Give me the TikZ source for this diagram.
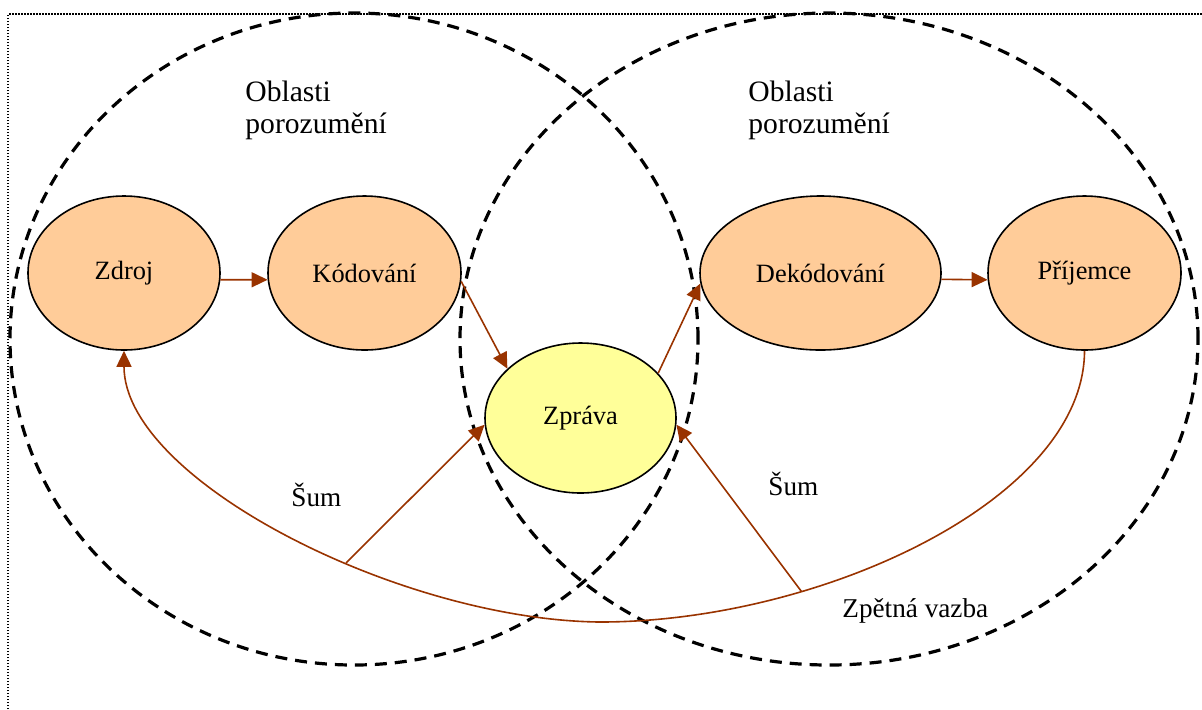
\documentclass[tikz,border=0pt]{standalone}
\usepackage{fontspec}
\setmainfont{Liberation Serif}
\usetikzlibrary{shapes.geometric,arrows.meta}
\definecolor{peach}{HTML}{FFCC99}
\definecolor{lemon}{HTML}{FFFF99}
\definecolor{rust}{HTML}{993300}

\begin{document}
\begin{tikzpicture}[x=0.5pt,y=-0.5pt,
  stage/.style={ellipse,draw=black,line width=0.8pt,fill=peach,inner sep=0pt,
    minimum height=77pt,font=\fontsize{13.2}{16}\selectfont},
  flow/.style={draw=rust,line width=0.8pt,-{Triangle[length=8pt,width=7.5pt]}},
  area/.style={draw=black,line width=1.6pt,dash pattern=on 6pt off 4pt},
  lbl/.style={inner sep=0pt,anchor=base west,font=\fontsize{13.6}{16.5}\selectfont},
  title/.style={inner sep=0pt,anchor=north west,align=left,font=\fontsize{14.8}{16}\selectfont},
  frame/.style={draw=black,line width=0.75pt,dash pattern=on 0.75pt off 0.75pt}]

\useasboundingbox (0,0) rectangle (1202,709);

% open dotted frame
\draw[frame] (8,709) -- (8,14) -- (1202,14);

% areas of understanding
\draw[area] (354,339) ellipse [x radius=172pt, y radius=163pt];
\draw[area] (829,339) ellipse [x radius=184.5pt, y radius=163pt];

% communication stages
\node[stage,minimum width=96pt]   (zd)  at (124,273)    {Zdroj};
\node[stage,minimum width=96.5pt] (kod) at (364.5,273)  {Kódování};
\node[stage,minimum width=120.5pt](dek) at (820.5,273)  {Dekódování};
\node[stage,minimum width=96.5pt] (pri) at (1084.5,273) {Příjemce};
\node[stage,fill=lemon,minimum width=95.5pt,minimum height=75pt] (zpr) at (580.5,418) {Zpráva};

% labels
\node[title] (obl1) at (245,81) {Oblasti\\porozumění};
\node[title] (obl2) at (748,81) {Oblasti\\porozumění};
\node[lbl] (sum1) at (291,506) {Šum};
\node[lbl] (sum2) at (768,495) {Šum};
\node[lbl] (vaz)  at (842,617) {Zpětná vazba};

% main flow
\draw[flow] (zd.-4) -- (kod.184);
\draw[flow] (kod.-5) -- (zpr.146);
\draw[flow] (zpr.30) -- (dek.185);
\draw[flow] (dek.-3) -- (pri.184);

% feedback
\draw[flow] (pri.south) .. controls (1084,500) and (820,622) .. (600,622)
  coordinate[pos=0.7] (n2)
  .. controls (400,620) and (124,480) .. (zd.south)
  coordinate[pos=0.4] (n1);

% noise
\draw[flow] (n1) -- (zpr.184);
\draw[flow] (n2) -- (zpr.-4);
\end{tikzpicture}
\end{document}
